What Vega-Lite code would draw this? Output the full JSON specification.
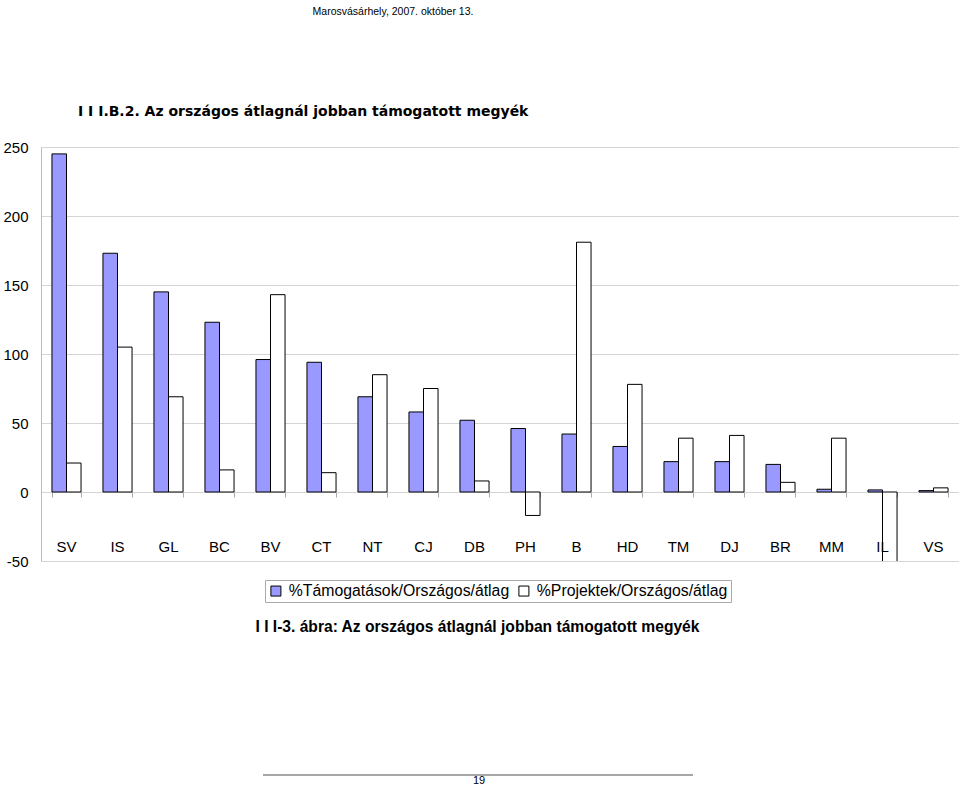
{
  "$schema": "https://vega.github.io/schema/vega-lite/v6.json",
  "autosize": {"type": "none"},
  "width": 918,
  "height": 414,
  "padding": {"left": 41, "top": 147, "right": 0, "bottom": 225},
  "background": "#ffffff",
  "config": {
    "view": {"stroke": null},
    "font": "Liberation Sans",
    "axis": {"labelFont": "Liberation Sans", "titleFont": "Liberation Sans"},
    "legend": {"labelFont": "Liberation Sans"}
  },
  "title": {
    "text": "Marosvásárhely, 2007. október 13.",
    "anchor": "middle",
    "frame": "group",
    "dx": -107,
    "offset": 88,
    "fontSize": 10.5,
    "fontWeight": "normal",
    "font": "Liberation Sans",
    "color": "#000000"
  },
  "datasets": {
    "megyek": [
      {"megye": "SV", "sorozat": "%Támogatások/Országos/átlag", "ertek": 245},
      {"megye": "SV", "sorozat": "%Projektek/Országos/átlag", "ertek": 21},
      {"megye": "IS", "sorozat": "%Támogatások/Országos/átlag", "ertek": 173},
      {"megye": "IS", "sorozat": "%Projektek/Országos/átlag", "ertek": 105},
      {"megye": "GL", "sorozat": "%Támogatások/Országos/átlag", "ertek": 145},
      {"megye": "GL", "sorozat": "%Projektek/Országos/átlag", "ertek": 69},
      {"megye": "BC", "sorozat": "%Támogatások/Országos/átlag", "ertek": 123},
      {"megye": "BC", "sorozat": "%Projektek/Országos/átlag", "ertek": 16},
      {"megye": "BV", "sorozat": "%Támogatások/Országos/átlag", "ertek": 96},
      {"megye": "BV", "sorozat": "%Projektek/Országos/átlag", "ertek": 143},
      {"megye": "CT", "sorozat": "%Támogatások/Országos/átlag", "ertek": 94},
      {"megye": "CT", "sorozat": "%Projektek/Országos/átlag", "ertek": 14},
      {"megye": "NT", "sorozat": "%Támogatások/Országos/átlag", "ertek": 69},
      {"megye": "NT", "sorozat": "%Projektek/Országos/átlag", "ertek": 85},
      {"megye": "CJ", "sorozat": "%Támogatások/Országos/átlag", "ertek": 58},
      {"megye": "CJ", "sorozat": "%Projektek/Országos/átlag", "ertek": 75},
      {"megye": "DB", "sorozat": "%Támogatások/Országos/átlag", "ertek": 52},
      {"megye": "DB", "sorozat": "%Projektek/Országos/átlag", "ertek": 8},
      {"megye": "PH", "sorozat": "%Támogatások/Országos/átlag", "ertek": 46},
      {"megye": "PH", "sorozat": "%Projektek/Országos/átlag", "ertek": -17},
      {"megye": "B", "sorozat": "%Támogatások/Országos/átlag", "ertek": 42},
      {"megye": "B", "sorozat": "%Projektek/Országos/átlag", "ertek": 181},
      {"megye": "HD", "sorozat": "%Támogatások/Országos/átlag", "ertek": 33},
      {"megye": "HD", "sorozat": "%Projektek/Országos/átlag", "ertek": 78},
      {"megye": "TM", "sorozat": "%Támogatások/Országos/átlag", "ertek": 22},
      {"megye": "TM", "sorozat": "%Projektek/Országos/átlag", "ertek": 39},
      {"megye": "DJ", "sorozat": "%Támogatások/Országos/átlag", "ertek": 22},
      {"megye": "DJ", "sorozat": "%Projektek/Országos/átlag", "ertek": 41},
      {"megye": "BR", "sorozat": "%Támogatások/Országos/átlag", "ertek": 20},
      {"megye": "BR", "sorozat": "%Projektek/Országos/átlag", "ertek": 7},
      {"megye": "MM", "sorozat": "%Támogatások/Országos/átlag", "ertek": 2},
      {"megye": "MM", "sorozat": "%Projektek/Országos/átlag", "ertek": 39},
      {"megye": "IL", "sorozat": "%Támogatások/Országos/átlag", "ertek": 1.5},
      {"megye": "IL", "sorozat": "%Projektek/Országos/átlag", "ertek": -65},
      {"megye": "VS", "sorozat": "%Támogatások/Országos/átlag", "ertek": 1},
      {"megye": "VS", "sorozat": "%Projektek/Országos/átlag", "ertek": 3}
    ]
  },
  "resolve": {"axis": {"x": "independent"}},
  "layer": [
    {
      "data": {"name": "megyek"},
      "mark": {"type": "bar", "stroke": "#000000", "strokeWidth": 1, "clip": true},
      "encoding": {
        "x": {
          "field": "megye",
          "type": "nominal",
          "sort": null,
          "scale": {"paddingInner": 0.43, "paddingOuter": 0.215},
          "axis": {
            "orient": "bottom",
            "zindex": 1,
            "domain": false,
            "ticks": false,
            "tickSize": 0,
            "labelPadding": -22,
            "labelAngle": 0,
            "labelFontSize": 15,
            "labelColor": "#000000",
            "title": "I I I-3. ábra: Az országos átlagnál jobban támogatott megyék",
            "titleFontSize": 15.6,
            "titleFontWeight": "bold",
            "titleColor": "#000000",
            "titleX": 214,
            "titleY": 70,
            "titleAlign": "left",
            "titleAnchor": "start",
            "titleBaseline": "alphabetic",
            "titleLimit": 0
          }
        },
        "xOffset": {"field": "sorozat", "type": "nominal", "sort": null},
        "y": {
          "field": "ertek",
          "type": "quantitative",
          "scale": {"domain": [-50, 250], "nice": false, "zero": false},
          "axis": {
            "values": [-50, 0, 50, 100, 150, 200, 250],
            "labelExpr": "'' + datum.value",
            "title": null,
            "zindex": 0,
            "ticks": false,
            "tickSize": 0,
            "labelPadding": 13,
            "labelFontSize": 15,
            "labelColor": "#000000",
            "domainColor": "#bbbbbb",
            "gridColor": "#d4d4d4",
            "grid": true
          }
        },
        "fill": {
          "field": "sorozat",
          "type": "nominal",
          "sort": null,
          "scale": {"range": ["#9999ff", "#ffffff"]},
          "legend": {
            "orient": "none",
            "legendX": 224,
            "legendY": 433,
            "direction": "horizontal",
            "title": null,
            "symbolType": "square",
            "symbolSize": 100,
            "symbolStrokeColor": "#000000",
            "symbolStrokeWidth": 1,
            "labelFontSize": 15.8,
            "labelLimit": 0,
            "labelColor": "#000000",
            "labelOffset": 5,
            "columnPadding": 6,
            "padding": 3,
            "strokeColor": "#aaaaaa",
            "fillColor": "#ffffff"
          }
        }
      }
    },
    {
      "data": {"name": "megyek"},
      "mark": {"type": "tick", "opacity": 0},
      "encoding": {
        "x": {
          "field": "megye",
          "type": "nominal",
          "sort": null,
          "axis": {
            "orient": "top",
            "offset": -345,
            "zindex": 0,
            "domain": false,
            "labels": false,
            "ticks": true,
            "tickBand": "extent",
            "tickSize": -5,
            "tickColor": "#aaaaaa",
            "title": null,
            "grid": false
          }
        },
        "y": {"datum": 0}
      }
    },
    {
      "data": {"values": [{"t": "I I I.B.2. Az országos átlagnál jobban támogatott megyék"}]},
      "mark": {"type": "text", "align": "left", "baseline": "middle", "fontSize": 14, "fontWeight": "bold", "font": "DejaVu Sans", "color": "#000000"},
      "encoding": {
        "text": {"field": "t"},
        "x": {"value": 37},
        "y": {"value": -35}
      }
    },
    {
      "data": {"values": [{"o": 1}]},
      "mark": {"type": "rule", "color": "#888888", "strokeWidth": 1.5},
      "encoding": {
        "x": {"value": 222},
        "x2": {"value": 652},
        "y": {"value": 628}
      }
    },
    {
      "data": {"values": [{"t": "19"}]},
      "mark": {"type": "text", "align": "center", "baseline": "middle", "fontSize": 11, "font": "Liberation Sans", "color": "#000000"},
      "encoding": {
        "text": {"field": "t"},
        "x": {"value": 438},
        "y": {"value": 634}
      }
    }
  ]
}
